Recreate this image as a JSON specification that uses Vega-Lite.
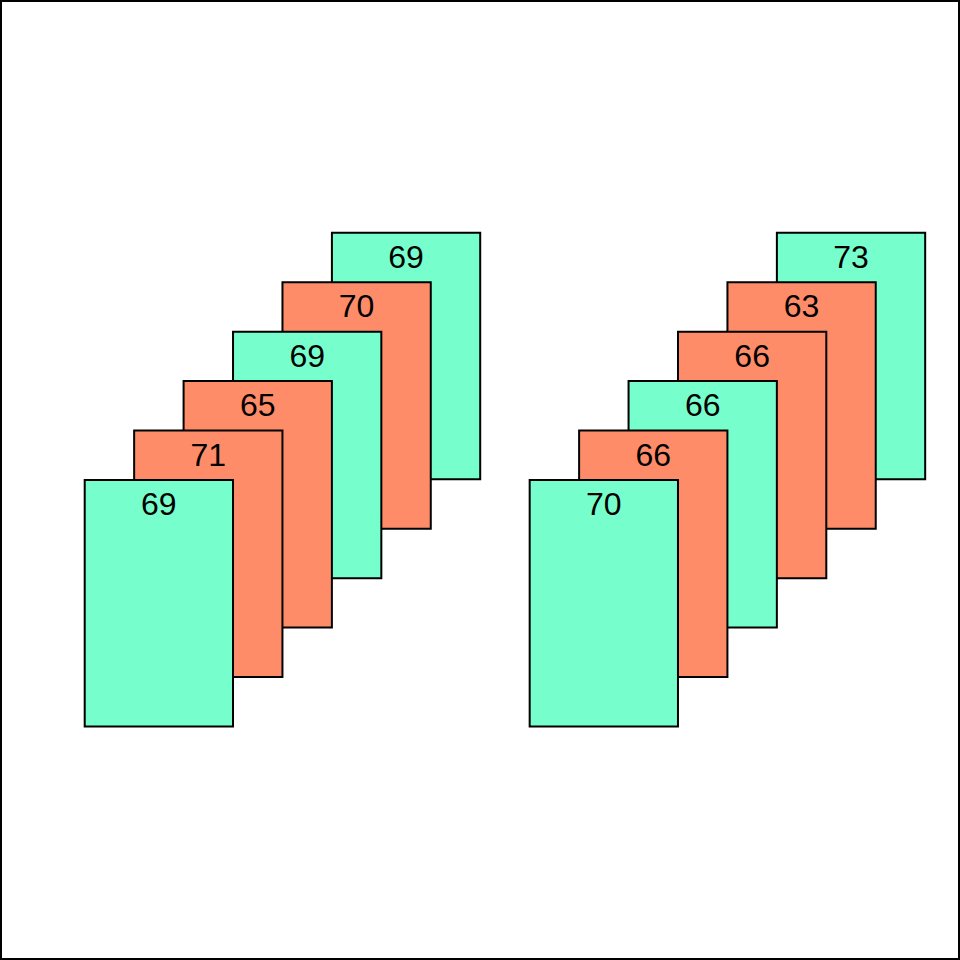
{
  "$schema": "https://vega.github.io/schema/vega-lite/v6.json",
  "width": 960,
  "height": 960,
  "autosize": {"type": "fit", "contains": "padding"},
  "padding": 0,
  "background": "white",
  "config": {"view": {"stroke": "black", "strokeWidth": 4}},
  "data": {
    "values": [
      {"group": "left", "index": 6, "value": 69, "type": "A"},
      {"group": "left", "index": 5, "value": 70, "type": "B"},
      {"group": "left", "index": 4, "value": 69, "type": "A"},
      {"group": "left", "index": 3, "value": 65, "type": "B"},
      {"group": "left", "index": 2, "value": 71, "type": "B"},
      {"group": "left", "index": 1, "value": 69, "type": "A"},
      {"group": "right", "index": 6, "value": 73, "type": "A"},
      {"group": "right", "index": 5, "value": 63, "type": "B"},
      {"group": "right", "index": 4, "value": 66, "type": "B"},
      {"group": "right", "index": 3, "value": 66, "type": "A"},
      {"group": "right", "index": 2, "value": 66, "type": "B"},
      {"group": "right", "index": 1, "value": 70, "type": "A"}
    ]
  },
  "layer": [
    {
      "transform": [{"filter": "datum.group === 'left'"}],
      "encoding": {
        "x": {"field": "index", "type": "quantitative", "scale": {"domain": [-2.213, 17.204], "nice": false, "zero": false}, "axis": null},
        "y": {"field": "index", "type": "quantitative", "scale": {"domain": [-6.216, 13.201], "nice": false, "zero": false}, "axis": null}
      },
      "layer": [
        {
          "mark": {"type": "rect", "width": 148.3, "height": 246.5, "stroke": "black", "strokeWidth": 2},
          "encoding": {
            "fill": {"field": "type", "type": "nominal", "scale": {"domain": ["A", "B"], "range": ["#76FFCC", "#FF8C69"]}, "legend": null}
          }
        },
        {
          "mark": {"type": "text", "font": "Liberation Sans", "fontSize": 32, "baseline": "alphabetic", "align": "center", "dy": -88, "color": "black"},
          "encoding": {"text": {"field": "value", "type": "quantitative"}}
        }
      ]
    },
    {
      "transform": [{"filter": "datum.group === 'right'"}],
      "encoding": {
        "x": {"field": "index", "type": "quantitative", "scale": {"domain": [-11.213, 8.204], "nice": false, "zero": false}, "axis": null},
        "y": {"field": "index", "type": "quantitative", "scale": {"domain": [-6.216, 13.201], "nice": false, "zero": false}, "axis": null}
      },
      "layer": [
        {
          "mark": {"type": "rect", "width": 148.3, "height": 246.5, "stroke": "black", "strokeWidth": 2},
          "encoding": {
            "fill": {"field": "type", "type": "nominal", "scale": {"domain": ["A", "B"], "range": ["#76FFCC", "#FF8C69"]}, "legend": null}
          }
        },
        {
          "mark": {"type": "text", "font": "Liberation Sans", "fontSize": 32, "baseline": "alphabetic", "align": "center", "dy": -88, "color": "black"},
          "encoding": {"text": {"field": "value", "type": "quantitative"}}
        }
      ]
    }
  ],
  "resolve": {"scale": {"x": "independent"}}
}
